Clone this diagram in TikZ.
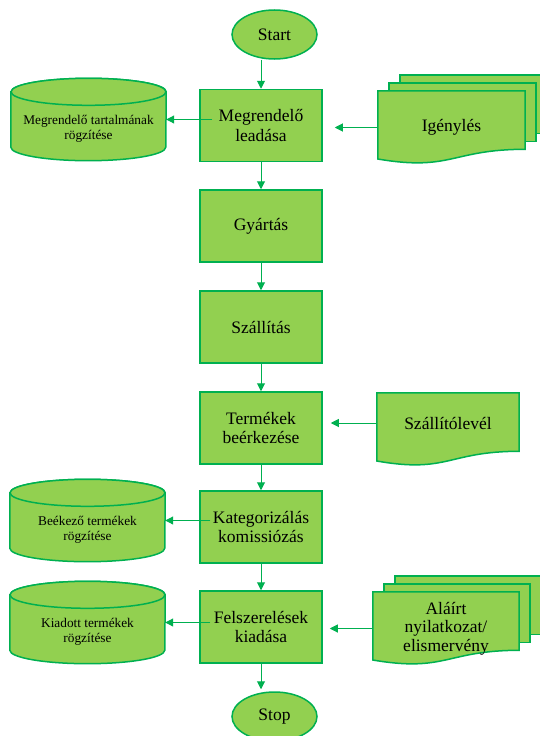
\documentclass[tikz,border=0pt]{standalone}
\usepackage{fontspec}
\setmainfont{Liberation Serif}
\usetikzlibrary{shapes.geometric,arrows.meta,backgrounds}

\definecolor{boxgreen}{HTML}{92D050}
\definecolor{linegreen}{HTML}{00B050}

\tikzset{
	outline/.style={draw=linegreen, line width=1.5pt, fill=boxgreen},
	bigtext/.style={font=\fontsize{17.5}{19.5}\selectfont, align=center},
	box/.style={outline, bigtext, rectangle, minimum width=122pt, minimum height=72pt},
	term/.style={outline, bigtext, ellipse, minimum width=85pt, minimum height=49pt},
	store/.style={minimum width=155pt, minimum height=82pt, inner sep=0pt},
	storetext/.style={font=\fontsize{13.3}{15}\selectfont, align=center},
	doc/.style={bigtext, inner sep=0pt, minimum height=73pt},
	flow/.style={draw=linegreen, line width=1pt, -{Triangle[length=8pt,width=8pt]}},
}

\begin{document}
\begin{tikzpicture}[x=1pt, y=-1pt]
	\useasboundingbox (0,0) rectangle (539,736);

	% Ablauf
	\node[term] (start) at (274.5,34.5) {Start};
	\node[box] (mro) at (261,125.5) {Megrendelő\\leadása};
	\node[box] (gyartas) at (261,226) {Gyártás};
	\node[box] (szallitas) at (261,327) {Szállítás};
	\node[box] (beerk) at (261,428) {Termékek\\beérkezése};
	\node[box] (kateg) at (261,527) {Kategorizálás\\komissiózás};
	\node[box] (felsz) at (261,627) {Felszerelések\\kiadása};
	\node[term] (stop) at (274.5,716.5) {Stop};

	% Datenspeicher
	\node[store] (db1) at (88.5,119.5) {};
	\node[store] (db2) at (87.5,520.5) {};
	\node[store] (db3) at (87.5,622.5) {};
	\node[storetext] (db1t) at ([yshift=-9.5pt]db1.center) {Megrendelő tartalmának\\rögzítése};
	\node[storetext] (db2t) at ([yshift=-9.5pt]db2.center) {Beékező termékek\\rögzítése};
	\node[storetext] (db3t) at ([yshift=-9.5pt]db3.center) {Kiadott termékek\\rögzítése};

	% Dokumente
	\node[doc, minimum width=147pt] (ig) at (451.5,127.5) {Igénylés};
	\node[doc, minimum width=142pt, minimum height=60pt] (szl) at (448,423) {Szállítólevél};
	\node[doc, minimum width=146pt, font=\fontsize{17.5}{18.5}\selectfont] (al) at (446,628.5) {Aláírt\\nyilatkozat/\\elismervény};

	\begin{scope}[on background layer]
		\foreach \n in {db1,db2,db3}{
			\draw[outline] ([yshift=-13.5pt]\n.north west) -- ([yshift=13.5pt]\n.south west)
				arc[start angle=180, end angle=360, x radius=77.5pt, y radius=13.5pt]
				-- ([yshift=-13.5pt]\n.north east)
				arc[start angle=0, end angle=180, x radius=77.5pt, y radius=13.5pt] -- cycle;
			\draw[outline] ([yshift=-13.5pt]\n.north) ellipse [x radius=77.5pt, y radius=13.5pt];
		}
		% Stapel hinten
		\foreach \n in {ig,al}{
			\draw[outline] ([shift={(22,-16)}]\n.north west) rectangle ([shift={(22,42.5)}]\n.north east);
			\draw[outline] ([shift={(11,-8)}]\n.north west) rectangle ([shift={(11,50.5)}]\n.north east);
		}
		\foreach \n in {ig,szl,al}{
			\draw[outline] (\n.north west) -- (\n.north east) -- ([yshift=-58.5pt]\n.north east)
				.. controls ([yshift=-58.5pt]\n.north) and ([yshift=-80.8pt]\n.north) .. ([yshift=-68.2pt]\n.north west) -- cycle;
		}
	\end{scope}

	% Verbindungen
	\draw[flow] (start.south -| mro.north) -- (mro.north);
	\draw[flow] (mro.south) -- (gyartas.north);
	\draw[flow] (gyartas.south) -- (szallitas.north);
	\draw[flow] (szallitas.south) -- (beerk.north);
	\draw[flow] (beerk.south) -- (kateg.north);
	\draw[flow] (kateg.south) -- (felsz.north);
	\draw[flow, shorten >=2pt] (felsz.south) -- (felsz.south |- stop.north);

	\draw[flow] ([xshift=13pt]mro.west |- db1.east) -- (db1.east);
	\draw[flow] ([xshift=11pt]kateg.west |- db2.east) -- (db2.east);
	\draw[flow] ([xshift=11pt]felsz.west |- db3.east) -- (db3.east);
	\draw[flow, shorten >=12pt] (ig.west) -- (ig.west -| mro.east);
	\draw[flow, shorten >=8pt] (szl.west) -- (szl.west -| beerk.east);
	\draw[flow, shorten >=7pt] (al.west) -- (al.west -| felsz.east);
\end{tikzpicture}
\end{document}
